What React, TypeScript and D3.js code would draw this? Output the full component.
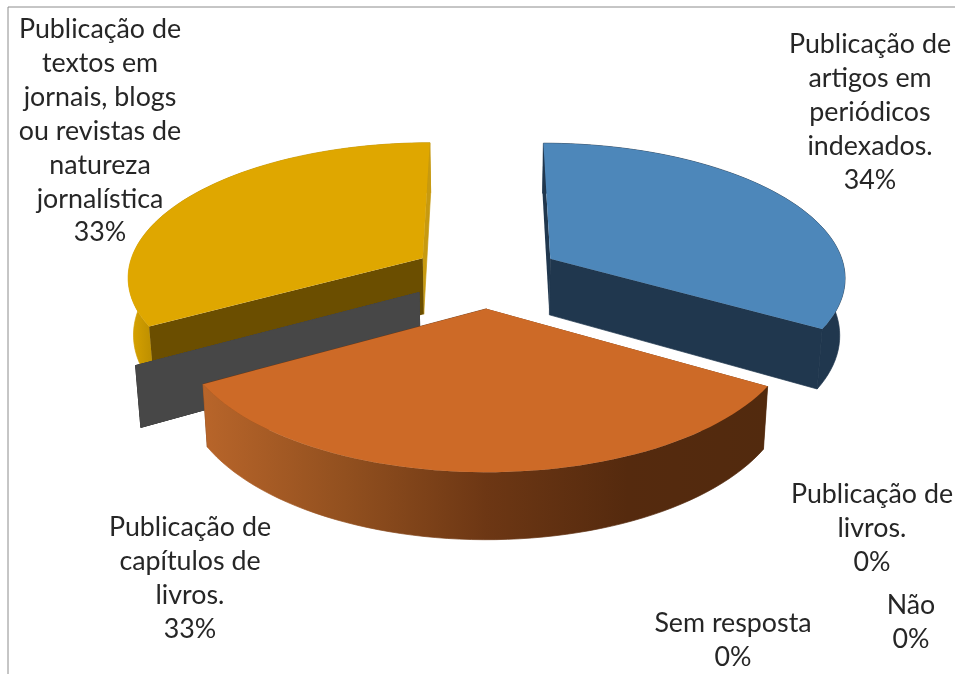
import React from "react";
import * as d3 from "d3";

// ---- data ----
const categories = [
  "Publicação de artigos em periódicos indexados.",
  "Publicação de capítulos de livros.",
  "Publicação de livros.",
  "Sem resposta",
  "Não",
  "Publicação de textos em jornais, blogs ou revistas de natureza jornalística",
];
const seriesValues = [33.5, 33.25, 0, 0, 0, 33.25];
const percentLabels = ["34%", "33%", "0%", "0%", "0%", "33%"];
const labelLines = [
  ["Publicação de", "artigos em", "periódicos", "indexados."],
  ["Publicação de", "capítulos de", "livros."],
  ["Publicação de", "livros."],
  ["Sem resposta"],
  ["Não"],
  ["Publicação de", "textos em", "jornais, blogs", "ou revistas de", "natureza", "jornalística"],
];

// ---- styles and layout ----
const topColors = ["#4d87ba", "#cd6a27", "#474747", "#474747", "#474747", "#dfa700"];
const startWallColors = ["#20374e", "#6b3613", "#474747", "#474747", "#474747", "#6b4e00"];
const endWallColors = ["#20374e", "#6b3613", "#474747", "#474747", "#474747", "#c79a10"];
const outerFills = ["#20374e", "url(#orangeWall)", "none", "none", "none", "url(#yellowWall)"];
const explodes = [0.25, 0.245, 0.26, 0.26, 0.26, 0.255];
const labelX = [870, 190, 872, 733, 911, 100];
const labelFirstY = [44, 527, 494, 623, 605, 29];
const lineStep = 33.9;

const W = 955;
const H = 674;
const cx = 487;
const Rx = 296;
const persp = 0.125;
const groundA = -795;
const groundB = 1070;
const depth = 57;
const converge = 0.015;

const project = (X: number, Y: number, z: number): [number, number] => {
  const g = 1 / (1 - persp * Y);
  return [cx + X * Rx * g * (1 - converge * z), groundA + groundB * g + z * depth * g];
};

const line = d3.line();
const pieLayout = d3.pie<number>().sort(null).value((d) => d);

const slices = pieLayout(seriesValues).map((a, i) => {
  const mid = (a.startAngle + a.endAngle) / 2;
  const ax = Math.sin(mid) * explodes[i];
  const ay = -Math.cos(mid) * explodes[i];
  const pt = (t: number, z: number) => project(ax + Math.sin(t), ay - Math.cos(t), z);
  const apex = (z: number) => project(ax, ay, z);
  const steps = d3.range(0, 61).map((k) => a.startAngle + ((a.endAngle - a.startAngle) * k) / 60);
  const empty = a.endAngle - a.startAngle === 0;
  return {
    i,
    ay,
    empty,
    top: line([apex(0), ...steps.map((t) => pt(t, 0))]) + "Z",
    outer: line([...steps.map((t) => pt(t, 0)), ...steps.slice().reverse().map((t) => pt(t, 1))]) + "Z",
    startWall: line([apex(0), pt(a.startAngle, 0), pt(a.startAngle, 1), apex(1)]) + "Z",
    endWall: line([apex(0), pt(a.endAngle, 0), pt(a.endAngle, 1), apex(1)]) + "Z",
  };
});

const ordered = slices.slice().sort((p, q) => d3.ascending(p.ay, q.ay));

export default function App() {
  const font = "Lato, Carlito, Calibri, sans-serif";
  return (
    <svg
      width={W}
      height={H}
      viewBox={`0 0 ${W} ${H}`}
      style={{ position: "absolute", left: 0, top: 0, background: "#fff" }}
    >
      <defs>
        <linearGradient id="orangeWall" gradientUnits="userSpaceOnUse" x1={203} x2={769} y1={0} y2={0}>
          <stop offset="0" stopColor="#b8652a" />
          <stop offset="0.25" stopColor="#92501f" />
          <stop offset="0.5" stopColor="#6d3714" />
          <stop offset="0.75" stopColor="#552a0e" />
          <stop offset="1" stopColor="#522a0e" />
        </linearGradient>
        <linearGradient id="yellowWall" gradientUnits="userSpaceOnUse" x1={128} x2={152} y1={0} y2={0}>
          <stop offset="0" stopColor="#dba500" />
          <stop offset="1" stopColor="#bd8f00" />
        </linearGradient>
        <filter id="soft" x="-5%" y="-5%" width="110%" height="110%">
          <feGaussianBlur stdDeviation="0.45" />
        </filter>
      </defs>

      <line x1={8} y1={7} x2={W} y2={7} stroke="#8c8c8c" strokeWidth={1} />
      <line x1={8} y1={7} x2={8} y2={H} stroke="#8c8c8c" strokeWidth={1} />

      {ordered.map((s) => {
        const outer = !s.empty && (
          <path d={s.outer} fill={outerFills[s.i]} stroke={outerFills[s.i]} strokeWidth={0.7} />
        );
        return (
          <g key={categories[s.i]}>
            {s.ay < 0 && outer}
            <path d={s.endWall} fill={endWallColors[s.i]} stroke={endWallColors[s.i]} strokeWidth={0.7} />
            <path d={s.startWall} fill={startWallColors[s.i]} />
            {s.ay >= 0 && outer}
            {!s.empty && <path d={s.top} fill={topColors[s.i]} />}
          </g>
        );
      })}

      <g filter="url(#soft)">
        {categories.map((c, i) => (
          <text key={c} x={labelX[i]} textAnchor="middle" fontFamily={font} fontSize={26.8} fill="#262626">
            {[...labelLines[i], percentLabels[i]].map((t, k) => (
              <tspan key={k} x={labelX[i]} y={labelFirstY[i] + k * lineStep + 9}>
                {t}
              </tspan>
            ))}
          </text>
        ))}
      </g>
    </svg>
  );
}
